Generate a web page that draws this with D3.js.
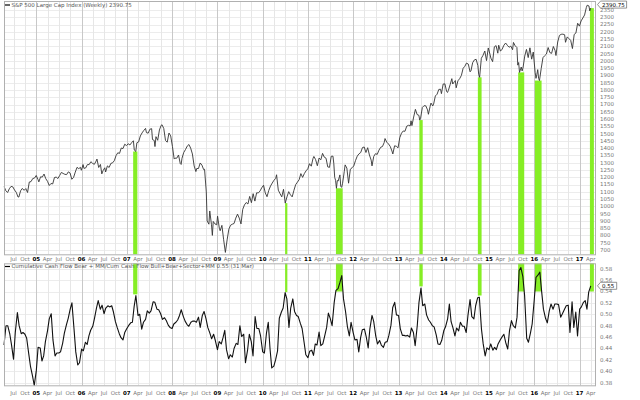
<!DOCTYPE html>
<html><head><meta charset="utf-8">
<script src="https://cdn.jsdelivr.net/npm/d3@7"></script>
<style>body{margin:0;background:#fff} svg{display:block} text{font-family:"DejaVu Sans",sans-serif}</style>
</head><body><svg id="c" width="640" height="400"></svg>
<script>
// ---------- DATA ----------
const spx = [
["2004-04-16",1135],["2004-04-30",1107],["2004-05-14",1095],["2004-05-28",1121],["2004-06-11",1137],["2004-06-25",1134],["2004-07-09",1112],["2004-07-23",1096],["2004-08-06",1064],["2004-08-13",1064],["2004-08-27",1107],["2004-09-10",1123],["2004-09-24",1110],["2004-10-08",1122],["2004-10-22",1095],["2004-11-05",1167],["2004-11-19",1170],["2004-12-03",1191],["2004-12-17",1194],["2004-12-31",1212],
["2005-01-14",1185],["2005-01-21",1168],["2005-02-04",1203],["2005-02-18",1201],["2005-03-04",1222],["2005-03-18",1190],["2005-04-01",1172],["2005-04-15",1143],["2005-04-29",1157],["2005-05-13",1154],["2005-05-27",1198],["2005-06-10",1201],["2005-06-24",1191],["2005-07-08",1212],["2005-07-22",1233],["2005-08-05",1226],["2005-08-19",1220],["2005-09-02",1218],["2005-09-16",1237],["2005-09-30",1229],["2005-10-14",1186],["2005-10-28",1198],["2005-11-11",1235],["2005-11-25",1268],["2005-12-09",1259],["2005-12-23",1268],["2005-12-30",1248],
["2006-01-13",1287],["2006-01-20",1261],["2006-02-03",1264],["2006-02-17",1287],["2006-03-03",1287],["2006-03-17",1307],["2006-03-31",1295],["2006-04-14",1289],["2006-04-28",1311],["2006-05-05",1325],["2006-05-19",1267],["2006-06-02",1288],["2006-06-13",1223],["2006-06-23",1245],["2006-07-07",1265],["2006-07-14",1236],["2006-07-28",1278],["2006-08-11",1267],["2006-08-25",1295],["2006-09-08",1299],["2006-09-22",1314],["2006-10-06",1349],["2006-10-20",1368],["2006-11-03",1364],["2006-11-17",1401],["2006-12-01",1397],["2006-12-15",1427],["2006-12-29",1418],
["2007-01-12",1430],["2007-01-26",1422],["2007-02-09",1438],["2007-02-23",1451],["2007-03-02",1387],["2007-03-14",1377],["2007-03-23",1437],["2007-04-06",1443],["2007-04-20",1484],["2007-05-04",1505],["2007-05-18",1522],["2007-06-01",1536],["2007-06-08",1507],["2007-06-22",1503],["2007-07-06",1530],["2007-07-20",1534],["2007-07-27",1459],["2007-08-10",1453],["2007-08-16",1411],["2007-08-24",1479],["2007-09-07",1454],["2007-09-21",1525],["2007-10-05",1557],["2007-10-12",1561],["2007-10-26",1535],["2007-11-09",1453],["2007-11-23",1441],["2007-12-07",1504],["2007-12-21",1484],
["2008-01-04",1411],["2008-01-18",1325],["2008-01-25",1331],["2008-02-08",1331],["2008-02-22",1353],["2008-03-07",1294],["2008-03-14",1288],["2008-03-21",1330],["2008-04-04",1370],["2008-04-18",1390],["2008-05-02",1414],["2008-05-16",1425],["2008-05-30",1400],["2008-06-13",1360],["2008-06-27",1278],["2008-07-11",1239],["2008-07-18",1260],["2008-08-01",1260],["2008-08-15",1298],["2008-08-29",1283],["2008-09-12",1252],["2008-09-19",1255],["2008-10-03",1099],["2008-10-10",899],["2008-10-24",877],["2008-10-31",968],["2008-11-14",873],["2008-11-21",800],["2008-11-28",896],["2008-12-12",879],["2008-12-26",873],
["2009-01-02",932],["2009-01-16",850],["2009-01-23",832],["2009-02-06",869],["2009-02-20",770],["2009-03-06",683],["2009-03-20",769],["2009-04-03",843],["2009-04-17",870],["2009-05-01",877],["2009-05-15",882],["2009-05-29",919],["2009-06-12",946],["2009-06-26",919],["2009-07-10",879],["2009-07-24",979],["2009-08-07",1010],["2009-08-21",1026],["2009-09-04",1016],["2009-09-18",1068],["2009-10-02",1025],["2009-10-16",1087],["2009-10-30",1036],["2009-11-13",1093],["2009-11-27",1092],["2009-12-11",1106],["2009-12-24",1127],
["2010-01-08",1145],["2010-01-22",1092],["2010-02-05",1066],["2010-02-19",1109],["2010-03-05",1139],["2010-03-19",1160],["2010-04-02",1179],["2010-04-16",1192],["2010-04-23",1217],["2010-05-07",1111],["2010-05-21",1087],["2010-06-04",1065],["2010-06-18",1117],["2010-07-02",1022],["2010-07-16",1065],["2010-07-30",1101],["2010-08-13",1079],["2010-08-27",1065],["2010-09-10",1110],["2010-09-24",1149],["2010-10-08",1166],["2010-10-22",1183],["2010-11-05",1225],["2010-11-19",1199],["2010-12-03",1225],["2010-12-17",1244],["2010-12-31",1258],
["2011-01-14",1293],["2011-01-28",1276],["2011-02-11",1329],["2011-02-18",1343],["2011-03-04",1321],["2011-03-18",1279],["2011-04-01",1332],["2011-04-15",1320],["2011-04-29",1364],["2011-05-13",1338],["2011-05-27",1331],["2011-06-10",1271],["2011-06-24",1268],["2011-07-08",1344],["2011-07-22",1345],["2011-07-29",1292],["2011-08-05",1199],["2011-08-12",1179],["2011-08-19",1124],["2011-08-26",1177],["2011-09-02",1174],["2011-09-16",1216],["2011-09-23",1136],["2011-09-30",1131],["2011-10-07",1155],["2011-10-21",1238],["2011-10-28",1285],["2011-11-11",1263],["2011-11-25",1159],["2011-12-09",1255],["2011-12-23",1265],
["2012-01-06",1278],["2012-01-20",1315],["2012-02-03",1345],["2012-02-17",1361],["2012-03-02",1370],["2012-03-16",1404],["2012-03-30",1408],["2012-04-13",1370],["2012-04-27",1403],["2012-05-11",1353],["2012-05-25",1318],["2012-06-01",1278],["2012-06-15",1343],["2012-06-29",1362],["2012-07-13",1357],["2012-07-27",1386],["2012-08-10",1406],["2012-08-24",1411],["2012-09-07",1438],["2012-09-14",1466],["2012-09-28",1441],["2012-10-12",1429],["2012-10-26",1412],["2012-11-09",1380],["2012-11-16",1360],["2012-11-30",1416],["2012-12-14",1413],["2012-12-28",1402],
["2013-01-11",1472],["2013-01-25",1503],["2013-02-08",1518],["2013-02-22",1516],["2013-03-08",1551],["2013-03-22",1557],["2013-04-05",1553],["2013-04-12",1588],["2013-04-19",1555],["2013-05-03",1614],["2013-05-17",1667],["2013-05-31",1631],["2013-06-14",1626],["2013-06-21",1593],["2013-06-28",1606],["2013-07-12",1680],["2013-07-26",1692],["2013-08-09",1691],["2013-08-23",1663],["2013-08-30",1633],["2013-09-13",1688],["2013-09-20",1710],["2013-10-04",1690],["2013-10-11",1703],["2013-10-25",1759],["2013-11-08",1771],["2013-11-22",1804],["2013-12-06",1805],["2013-12-13",1775],["2013-12-27",1841],
["2014-01-10",1842],["2014-01-24",1790],["2014-01-31",1783],["2014-02-07",1797],["2014-02-21",1836],["2014-03-07",1878],["2014-03-14",1841],["2014-03-28",1857],["2014-04-04",1865],["2014-04-11",1815],["2014-04-25",1863],["2014-05-09",1878],["2014-05-23",1900],["2014-06-06",1949],["2014-06-20",1963],["2014-07-03",1985],["2014-07-18",1978],["2014-08-01",1925],["2014-08-08",1931],["2014-08-22",1988],["2014-09-05",2007],["2014-09-19",2011],["2014-10-03",1968],["2014-10-10",1906],["2014-10-17",1887],["2014-10-31",2018],["2014-11-14",2039],["2014-11-28",2068],["2014-12-12",2002],["2014-12-26",2089],
["2015-01-09",2045],["2015-01-16",2019],["2015-01-30",1995],["2015-02-13",2097],["2015-02-27",2105],["2015-03-13",2053],["2015-03-20",2108],["2015-04-03",2067],["2015-04-17",2081],["2015-05-01",2108],["2015-05-15",2123],["2015-05-29",2107],["2015-06-12",2094],["2015-06-26",2102],["2015-07-10",2077],["2015-07-17",2127],["2015-07-31",2104],["2015-08-14",2092],["2015-08-21",1971],["2015-08-28",1989],["2015-09-04",1921],["2015-09-18",1958],["2015-09-25",1931],["2015-10-02",1951],["2015-10-16",2033],["2015-10-30",2079],["2015-11-13",2023],["2015-11-27",2090],["2015-12-11",2012],["2015-12-24",2061],
["2016-01-08",1922],["2016-01-15",1880],["2016-01-22",1907],["2016-01-29",1940],["2016-02-05",1880],["2016-02-12",1865],["2016-02-26",1948],["2016-03-11",2022],["2016-03-24",2035],["2016-04-08",2047],["2016-04-22",2092],["2016-05-06",2057],["2016-05-20",2052],["2016-06-03",2099],["2016-06-17",2071],["2016-06-24",2037],["2016-07-08",2130],["2016-07-22",2175],["2016-08-05",2183],["2016-08-19",2184],["2016-09-02",2180],["2016-09-09",2128],["2016-09-23",2165],["2016-10-07",2153],["2016-10-21",2141],["2016-11-04",2085],["2016-11-18",2182],["2016-12-02",2192],["2016-12-16",2259],["2016-12-30",2239],
["2017-01-13",2275],["2017-01-27",2295],["2017-02-10",2316],["2017-02-24",2367],["2017-03-03",2383],["2017-03-17",2378],["2017-03-24",2344],["2017-03-31",2363]
];

// indicator, sampled on the 15th and the 1st of each month, from 15 Apr 2004
const cashFlow = [
0.446,0.480,0.480,0.465,0.446,0.421,0.468,0.503,0.480,0.466,0.468,0.465,0.458,0.430,0.408,0.392,0.375,
0.402,0.442,0.441,0.418,0.427,0.452,0.471,0.492,0.501,0.455,0.427,0.432,0.432,0.434,0.449,0.467,0.482,0.493,0.509,0.520,0.474,0.434,0.411,0.415,
0.439,0.436,0.451,0.447,0.462,0.472,0.479,0.493,0.511,0.524,0.509,0.516,0.501,0.511,0.515,0.513,0.515,0.504,0.487,0.477,0.466,0.459,0.455,0.468,
0.475,0.480,0.485,0.486,0.514,0.533,0.498,0.500,0.474,0.486,0.491,0.506,0.502,0.506,0.522,0.521,0.509,0.508,0.501,0.491,0.494,0.489,0.481,0.477,
0.475,0.483,0.486,0.490,0.498,0.508,0.496,0.488,0.482,0.479,0.486,0.488,0.488,0.486,0.495,0.477,0.498,0.505,0.492,0.477,0.467,0.457,0.465,0.454,
0.438,0.452,0.448,0.459,0.472,0.438,0.422,0.429,0.425,0.440,0.449,0.447,0.480,0.461,0.465,0.415,0.437,0.465,0.452,0.427,0.496,0.475,0.475,0.462,
0.434,0.432,0.468,0.486,0.440,0.406,0.409,0.420,0.436,0.493,0.504,0.511,0.538,0.527,0.477,0.511,0.527,0.505,0.498,0.496,0.484,0.475,0.451,0.429,
0.424,0.435,0.437,0.428,0.448,0.446,0.469,0.445,0.448,0.461,0.477,0.502,0.492,0.480,0.521,0.542,0.545,0.555,0.568,0.527,0.504,0.479,0.462,0.486,
0.468,0.455,0.456,0.434,0.459,0.473,0.474,0.461,0.441,0.475,0.498,0.487,0.462,0.448,0.454,0.446,0.442,0.451,0.452,0.463,0.481,0.512,0.521,0.499,
0.498,0.475,0.463,0.463,0.462,0.463,0.460,0.476,0.468,0.445,0.480,0.521,0.546,0.515,0.518,0.499,0.490,0.486,0.480,0.478,0.464,0.448,0.447,0.454,
0.471,0.478,0.492,0.518,0.487,0.477,0.462,0.476,0.471,0.486,0.479,0.479,0.468,0.498,0.526,0.496,0.492,0.515,0.529,0.530,0.474,0.448,0.427,0.441,
0.438,0.448,0.437,0.442,0.438,0.448,0.455,0.460,0.465,0.451,0.439,0.471,0.489,0.480,0.476,0.495,0.577,0.582,0.566,0.533,0.458,0.451,0.467,0.483,
0.526,0.565,0.569,0.574,0.539,0.509,0.493,0.485,0.506,0.518,0.509,0.518,0.518,0.517,0.495,0.501,0.509,0.515,0.516,0.468,0.522,0.477,0.504,0.462,
0.509,0.513,0.521,0.524,0.509,0.539,0.550
];

const highlights = [
  {start:"2007-02-21", end:"2007-03-27", floor:0.535},
  {start:"2010-07-01", end:"2010-07-19", floor:0.539},
  {start:"2011-08-15", end:"2011-10-08", floor:0.540},
  {start:"2013-06-18", end:"2013-07-15", floor:0.549},
  {start:"2014-10-03", end:"2014-11-02", floor:0.533},
  {start:"2015-08-24", end:"2015-10-12", floor:0.540},
  {start:"2016-01-06", end:"2016-02-29", floor:0.540},
  {start:"2017-03-25", end:"2017-04-26", floor:0.540}
];

const priceTicks = [700,750,800,850,900,950,1000,1050,1100,1150,1200,1250,1300,1350,1400,1450,1500,1550,1600,1650,1700,1750,1800,1850,1900,1950,2000,2050,2100,2150,2200,2250,2300,2350];
const cfTicks = [0.38,0.40,0.42,0.44,0.46,0.48,0.50,0.52,0.54,0.56,0.58];
const monthNames = ["Jan","Feb","Mar","Apr","May","Jun","Jul","Aug","Sep","Oct","Nov","Dec"];
const priceLegend = "S&P 500 Large Cap Index (Weekly) 2390.75";
const priceTag = {value:2390.75, label:"2390.75"};
const cfLegend = "Cumulative Cash Flow Bear + MM/Cum Cash Flow Bull+Bear+Sector+MM 0.55 (31 Mar)";
const cfTag = {value:0.55, label:"0.55"};

// ---------- DRAW ----------
const parse = d3.timeParse("%Y-%m-%d");
const spxData = spx.map(d => ({date: parse(d[0]), value: d[1]}));
const cfData = cashFlow.map((v, i) => ({date: new Date(2004, 3 + Math.floor((i + 1) / 2), i % 2 === 0 ? 15 : 1), value: v}));

const svg = d3.select("#c");
const L = 4, R = 595;
const top1 = 1, bot1 = 254.3, top2 = 263.3, bot2 = 385.3;

const x = d3.scaleTime().domain([new Date(2004, 3, 15), new Date(2017, 4, 5)]).range([L, R]);
const yP = d3.scaleLinear().domain([670, 2412]).range([bot1, top1]);
const yC = d3.scaleLinear().domain([0.3754, 0.5895]).range([bot2, top2]);

const quarters = d3.timeMonth.every(3).range(x.domain()[0], x.domain()[1]);
const fs = 5.5;

function grid(t, b, yScale, ticks) {
  const g = svg.append("g");
  g.selectAll(".h").data(ticks).join("line")
    .attr("x1", L).attr("x2", R)
    .attr("y1", d => Math.round(yScale(d)) + 0.5).attr("y2", d => Math.round(yScale(d)) + 0.5)
    .attr("stroke", "#ececec").attr("stroke-width", 1);
  g.selectAll(".v").data(quarters).join("line")
    .attr("x1", d => Math.round(x(d)) + 0.5).attr("x2", d => Math.round(x(d)) + 0.5)
    .attr("y1", t).attr("y2", b)
    .attr("stroke", d => d.getMonth() === 0 ? "#c8c8c8" : "#e6e6e6").attr("stroke-width", 1);
}
grid(top1, bot1, yP, priceTicks);
grid(top2, bot2, yC, cfTicks);

// highlight bars
const green = "#86ee25";
highlights.forEach(h => {
  const s = parse(h.start), e = parse(h.end);
  const inWin = spxData.filter(d => d.date >= s && d.date <= e);
  const topVal = d3.min(inWin, d => d.value);
  svg.append("rect").attr("x", x(s)).attr("width", x(e) - x(s))
    .attr("y", yP(topVal)).attr("height", bot1 - yP(topVal)).attr("fill", green);
  svg.append("rect").attr("x", x(s)).attr("width", x(e) - x(s))
    .attr("y", top2).attr("height", yC(h.floor) - top2).attr("fill", green);
});

// lines
svg.append("path").datum(spxData)
  .attr("d", d3.line().x(d => x(d.date)).y(d => yP(d.value)))
  .attr("fill", "none").attr("stroke", "#333").attr("stroke-width", 0.9).attr("stroke-linejoin", "round");
svg.append("path").datum(cfData)
  .attr("d", d3.line().x(d => x(d.date)).y(d => yC(d.value)))
  .attr("fill", "none").attr("stroke", "#111").attr("stroke-width", 1.1).attr("stroke-linejoin", "round");

// borders
[[top1, bot1], [top2, bot2]].forEach(([t, b]) => {
  svg.append("rect").attr("x", L + 0.5).attr("y", t + 0.5).attr("width", R - L).attr("height", b - t)
    .attr("fill", "none").attr("stroke", "#b0b0b0").attr("stroke-width", 1);
});

// right axes
function rightAxis(yScale, ticks, fmt) {
  svg.append("g").selectAll("text").data(ticks).join("text")
    .attr("x", 600).attr("y", d => yScale(d)).attr("dy", "0.35em")
    .attr("font-size", fs).attr("fill", "#777").text(fmt);
}
rightAxis(yP, priceTicks.filter(d => d <= 2350), d => d);
rightAxis(yC, cfTicks, d3.format(".2f"));

// x labels
function xLabels(yPos) {
  svg.append("g").selectAll("text").data(quarters.filter(d => x(d) > L + 3 && x(d) < R + 2)).join("text")
    .attr("x", d => x(d)).attr("y", yPos).attr("dy", "0.35em").attr("text-anchor", "middle")
    .attr("font-size", fs)
    .attr("font-weight", d => d.getMonth() === 0 ? "bold" : "normal")
    .attr("fill", d => d.getMonth() === 0 ? "#000" : "#777")
    .text(d => d.getMonth() === 0 ? d3.timeFormat("%y")(d) : monthNames[d.getMonth()]);
}
xLabels(259);
xLabels(393.5);

// legends
function legend(yPos, txt) {
  svg.append("line").attr("x1", 5).attr("x2", 10).attr("y1", yPos).attr("y2", yPos).attr("stroke", "#000").attr("stroke-width", 1.2);
  svg.append("text").attr("x", 11.5).attr("y", yPos).attr("dy", "0.35em").attr("font-size", fs).attr("fill", "#555").text(txt);
}
legend(5, priceLegend);
legend(266.5, cfLegend);

// value tags
function tag(cy, label) {
  const w = label.length * 3.3 + 3, h = 7, x0 = 597.5;
  svg.append("path")
    .attr("d", `M${x0},${cy} L${x0 + 3},${cy - h / 2} L${x0 + 3 + w},${cy - h / 2} L${x0 + 3 + w},${cy + h / 2} L${x0 + 3},${cy + h / 2} Z`)
    .attr("fill", "#fff").attr("stroke", "#666").attr("stroke-width", 0.7);
  svg.append("text").attr("x", x0 + 4.5).attr("y", cy).attr("dy", "0.35em").attr("font-size", fs).attr("fill", "#000").text(label);
}
tag(Math.max(yP(priceTag.value), top1 + 3.6), priceTag.label);
tag(yC(cfTag.value), cfTag.label);
</script></body></html>
